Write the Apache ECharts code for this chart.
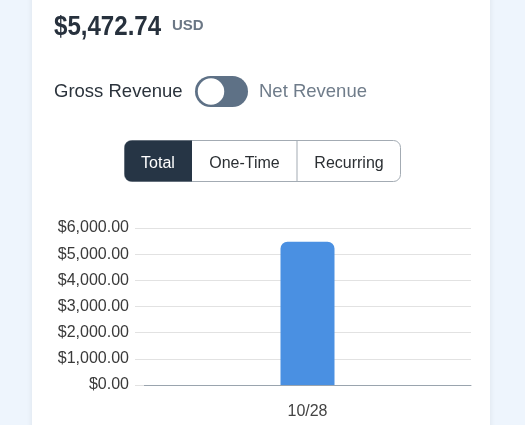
<!DOCTYPE html>
<html><head><meta charset="utf-8">
<script src="https://cdn.jsdelivr.net/npm/echarts@6/dist/echarts.min.js"></script>
<style>html,body{margin:0;padding:0;background:#eef5fd;}#c{width:525px;height:425px;}</style>
</head><body><div id="c"></div>
<script>
const categories = ['10/28'];
const revenueValues = [5472.74];
const yTicks = [0, 1000, 2000, 3000, 4000, 5000, 6000];
const totalLabel = '$5,472.74';
const currency = 'USD';
const segments = ['Total', 'One-Time', 'Recurring'];

const chart = echarts.init(document.getElementById('c'), null, {renderer: 'canvas'});
const font = '"Liberation Sans", Arial, sans-serif';
function fmt(v){ return '$' + Number(v).toLocaleString('en-US',{minimumFractionDigits:2,maximumFractionDigits:2}); }

const segX = [124, 192, 297, 401];
const segGraphics = [];
segments.forEach((s,i)=>{
  segGraphics.push({type:'text', x: (segX[i]+segX[i+1])/2, y: 163.5, style:{text:s, font:'16px '+font, fill: i===0?'#ffffff':'#2b2f33', textAlign:'center', textVerticalAlign:'middle'}, z:20});
});

chart.setOption({
  backgroundColor:'#eef5fd',
  animation:false,
  graphic:[
    {type:'rect', shape:{x:32,y:-20,width:458,height:470,r:6}, style:{fill:'#ffffff', shadowBlur:6, shadowColor:'rgba(0,0,0,0.08)'}, z:0, silent:true},
    {type:'text', x:54, y:27, scaleX:0.86, style:{text:totalLabel, font:'bold 28px ' + font, fill:'#27313d', textVerticalAlign:'middle'}, z:10},
    {type:'text', x:172, y:25.5, style:{text:currency, font:'bold 15px '+font, fill:'#6b7785', textVerticalAlign:'middle'}, z:10},
    {type:'text', x:54, y:92, style:{text:'Gross Revenue', font:'18.5px '+font, fill:'#2b333c', textVerticalAlign:'middle'}, z:10},
    {type:'rect', shape:{x:195,y:76,width:53,height:31,r:15.5}, style:{fill:'#5e7186'}, z:10},
    {type:'circle', shape:{cx:211,cy:91.5,r:14}, style:{fill:'#ffffff', stroke:'#5e7186', lineWidth:1.5}, z:11},
    {type:'text', x:259, y:92, style:{text:'Net Revenue', font:'18.5px '+font, fill:'#6f7c8a', textVerticalAlign:'middle'}, z:10},
    {type:'rect', shape:{x:124.5,y:140.5,width:276,height:41,r:7}, style:{fill:'#ffffff', stroke:'#a3abb3', lineWidth:1}, z:10},
    {type:'rect', shape:{x:124.5,y:140.5,width:67.5,height:41,r:[7,0,0,7]}, style:{fill:'#263545'}, z:11},
    {type:'line', shape:{x1:297,y1:141,x2:297,y2:181}, style:{stroke:'#a3abb3', lineWidth:1}, z:11},
    ...segGraphics
  ],
  grid:{left:144, right:54, top:228, bottom:40},
  xAxis:{type:'category', data:categories, boundaryGap:true,
    axisLine:{lineStyle:{color:'#9aa4ae', width:1}}, axisTick:{show:false},
    axisLabel:{color:'#444', fontFamily:font, fontSize:16, margin:19}},
  yAxis:{type:'value', min:0, max:6000, interval:1000,
    axisLine:{show:false},
    axisTick:{show:true, length:9, lineStyle:{color:'#e2e2e2'}},
    splitLine:{lineStyle:{color:'#e2e2e2'}},
    axisLabel:{color:'#3a3a3a', fontFamily:font, fontSize:16, margin:15, padding:[4,0,0,0], formatter:fmt}},
  series:[{type:'bar', data:revenueValues, barWidth:54, itemStyle:{color:'#4a90e2', borderRadius:[7,7,0,0]}}]
});
</script></body></html>
